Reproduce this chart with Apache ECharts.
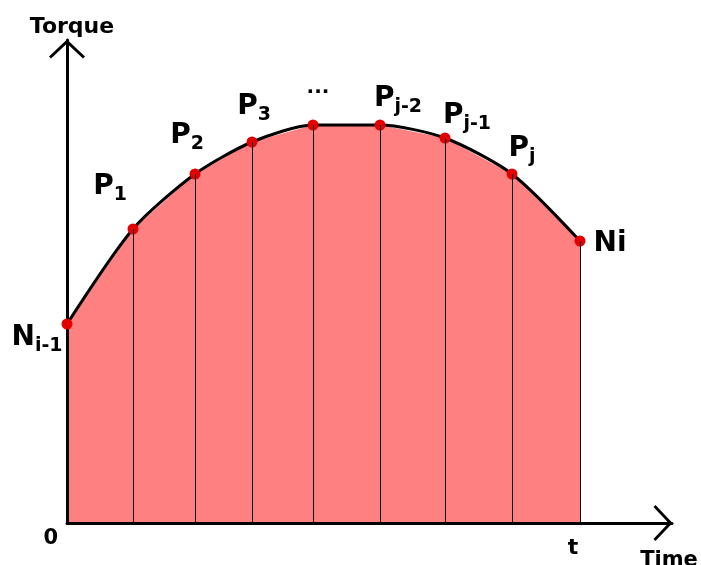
<!DOCTYPE html>
<html>
<head>
<meta charset="utf-8">
<title>Torque - Time</title>
<script src="https://cdn.jsdelivr.net/npm/echarts@6/dist/echarts.min.js"></script>
<style>
	html, body { margin: 0; padding: 0; background: #ffffff; }
	#chart { width: 701px; height: 565px; }
</style>
</head>
<body>
<div id="chart"></div>
<script>
// 数据（横轴：时间，纵轴：扭矩，单位任意）
const timeX = [0, 66, 128, 185, 246, 313, 378, 445, 513];
const torqueY = [199, 294, 349, 381, 398, 398, 385, 349, 282];
const pointMain = ['N', 'P', 'P', 'P', '...', 'P', 'P', 'P', 'Ni'];
const pointSub = ['i-1', '1', '2', '3', '', 'j-2', 'j-1', 'j', ''];
const xTickLabel = 't';
const yTickLabel = '0';
const xMax = 605;
const yMax = 483;

(function() {
	let myChart = echarts.init(document.getElementById('chart'));

	const font = 'DejaVu Sans';
	// 标签相对于点的偏移
	const labelOffset = [[-30, 14], [-23, -42], [-8, -38], [2, -35], [5, -37], [18, -26], [22, -22], [10, -25], [30, 3]];
	// 坐标轴箭头（开口 V 形）
	const chevron = 'path://M18,0 L36,17 L34,19 L18,4 L2,19 L0,17 Z';

	let pts = timeX.map(function(x, i) { return [x, torqueY[i]]; });

	let curveData = pts.map(function(p, i) {
		let text;
		if (pointMain[i] === '...') {
			text = '{d|...}';
		} else if (pointSub[i]) {
			text = '{p|' + pointMain[i] + '}{s|' + pointSub[i] + '}';
		} else {
			text = '{p|' + pointMain[i] + '}';
		}
		return {
			value: p,
			label: {
				show: true,
				position: 'inside',
				offset: labelOffset[i],
				formatter: text
			}
		};
	});

	// 竖线：每个点到横轴
	let verticals = pts.slice(1).map(function(p) {
		return [{ coord: [p[0], 0] }, { coord: [p[0], p[1]] }];
	});

	let axisLine = {
		show: true,
		symbol: ['none', chevron],
		symbolSize: [36, 19],
		symbolOffset: [0, -9],
		lineStyle: { color: '#000000', width: 3 }
	};

	let option = {
		animation: false,
		backgroundColor: '#ffffff',
		grid: {
			left: 67,
			right: 29,
			top: 40,
			bottom: 42,
			containLabel: false,
			outerBoundsMode: 'none'
		},
		xAxis: {
			type: 'value',
			min: 0,
			max: xMax,
			z: 2,
			name: 'Time',
			nameLocation: 'end',
			nameGap: -3,
			nameTextStyle: {
				fontFamily: font,
				fontWeight: 'bold',
				fontSize: 21,
				color: '#000000',
				align: 'center',
				verticalAlign: 'top',
				padding: [27, 0, 0, 0]
			},
			axisLine: axisLine,
			axisTick: { show: false },
			splitLine: { show: false },
			axisLabel: {
				customValues: [timeX[timeX.length - 1]],
				formatter: function() { return xTickLabel; },
				margin: 14,
				padding: [0, 14, 0, 0],
				fontFamily: font,
				fontWeight: 'bold',
				fontSize: 22,
				color: '#000000'
			}
		},
		yAxis: {
			type: 'value',
			min: 0,
			max: yMax,
			z: 2,
			name: 'Torque',
			nameLocation: 'end',
			nameGap: 2,
			nameTextStyle: {
				fontFamily: font,
				fontWeight: 'bold',
				fontSize: 22,
				color: '#000000',
				padding: [0, 0, 0, 10]
			},
			axisLine: axisLine,
			axisTick: { show: false },
			splitLine: { show: false },
			axisLabel: {
				customValues: [0],
				formatter: function() { return yTickLabel; },
				margin: 9,
				verticalAlign: 'top',
				padding: [5, 0, 0, 0],
				fontFamily: font,
				fontWeight: 'bold',
				fontSize: 21,
				color: '#000000'
			}
		},
		series: [
			{
				// 折线下方的红色面积
				name: 'area',
				type: 'line',
				data: pts,
				symbol: 'none',
				lineStyle: { width: 0 },
				areaStyle: { color: '#ff8080', opacity: 1 },
				z: 1,
				markLine: {
					silent: true,
					symbol: ['none', 'none'],
					label: { show: false },
					lineStyle: { color: '#000000', width: 1, type: 'solid' },
					data: verticals
				}
			},
			{
				// 光滑曲线与节点
				name: 'curve',
				type: 'line',
				data: curveData,
				smooth: 0.25,
				symbol: 'circle',
				symbolSize: 11,
				itemStyle: { color: '#e50000' },
				lineStyle: { color: '#000000', width: 3 },
				z: 3,
				label: {
					color: '#000000',
					fontFamily: font,
					fontWeight: 'bold',
					rich: {
						p: { fontFamily: font, fontWeight: 'bold', fontSize: 28, lineHeight: 28, color: '#000000' },
						s: { fontFamily: font, fontWeight: 'bold', fontSize: 19, lineHeight: 20, padding: [16, 0, 0, 0], color: '#000000' },
						d: { fontFamily: font, fontWeight: 'bold', fontSize: 20, lineHeight: 20, color: '#000000' }
					}
				}
			}
		]
	};

	myChart.setOption(option);

	window.addEventListener('resize', function() {
		myChart.resize();
	})
})();
</script>
</body>
</html>
